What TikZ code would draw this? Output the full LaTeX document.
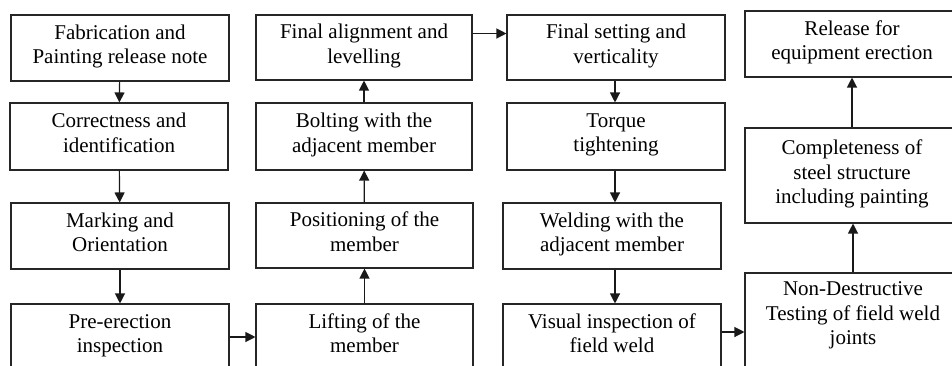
\documentclass[tikz,border=0pt]{standalone}
\usepackage{fontspec}
\setmainfont{Liberation Serif}
\usetikzlibrary{arrows.meta,calc}
\newcommand{\topstrut}{\rule{0pt}{20pt}}
\newcommand{\botstrut}{\rule[-7.35pt]{0pt}{7.35pt}}
\begin{document}
\begin{tikzpicture}[x=1pt,y=-1pt,
  box/.style={draw=black!85,line width=1.1pt,fill=white,minimum height=66pt,inner sep=0pt,align=center,
    font=\fontsize{21}{24.5}\selectfont,execute at begin node=\topstrut,execute at end node=\botstrut},
  txt/.style={inner sep=0pt,align=center,font=\fontsize{21}{24.5}\selectfont,
    execute at begin node=\topstrut,execute at end node=\botstrut},
  arr/.style={draw=black!90,line width=1.2pt,-{Triangle[length=10pt,width=10pt]}}]
\fill[white] (0,0) rectangle (952,365);
\useasboundingbox (0,0) rectangle (952,365);
\clip (0,0) rectangle (952,365);
% column 1
\node[box,minimum width=218pt] (a1) at (120,48) {Fabrication and\\Painting release note};
\node[box,minimum width=218pt,minimum height=67pt] (a2) at (119,136.5) {Correctness and\\identification};
\node[box,minimum width=218pt] (a3) at (120,236) {Marking and\\Orientation};
\node[box,minimum width=218pt] (a4) at (120,337) {Pre-erection\\inspection};
% column 2
\node[box,minimum width=216pt,minimum height=65pt] (b1) at (364,47.5) {Final alignment and\\levelling};
\node[box,minimum width=216pt,minimum height=67pt] (b2) at (364,136.5) {Bolting with the\\adjacent member};
\node[box,minimum width=217pt,minimum height=65pt] (b3) at (364.5,235.5) {Positioning of the\\member};
\node[box,minimum width=217pt] (b4) at (364.5,337) {Lifting of the\\member};
% column 3
\node[box,minimum width=218pt,minimum height=65pt] (c1) at (616,47.5) {Final setting and\\verticality};
\node[box,minimum width=218pt,minimum height=67pt] (c2) at (616,136.5) {Torque\\tightening};
\node[box,minimum width=218pt] (c3) at (612,236) {Welding with the\\adjacent member};
\node[box,minimum width=218pt] (c4) at (612,337) {Visual inspection of\\field weld};
% column 4
\node[box,minimum width=214pt] (d1) at (852,44) {Release for\\equipment erection};
\node[box,minimum width=214pt,minimum height=95pt] (d2) at (852,175.5) {Completeness of\\steel structure\\including painting};
\node[box,minimum width=214pt,minimum height=100pt] (d3) at (852,323) {};
\node[txt] (d3t) at (853,317) {Non-Destructive\\Testing of field weld\\joints};
% connectors
\draw[arr] (a1) -- (a2);
\draw[arr] (a2) -- (a3);
\draw[arr] (a3) -- (a4);
\draw[arr] (a4) -- (b4);
\draw[arr] (b4) -- (b3);
\draw[arr] (b3) -- (b2);
\draw[arr] (b2) -- (b1);
\draw[arr] ([yshift=14pt]b1.east) -- ([yshift=14pt]c1.west);
\draw[arr] ([xshift=-1pt]c1.south) -- ([xshift=-1pt]c2.north);
\draw[arr] ([xshift=-1pt]c2.south) -- (c2.south -| 615,0) -- (c3.north -| 615,0);
\draw[arr] (c3.south -| 615,0) -- (c4.north -| 615,0);
\draw[arr] ([yshift=5pt]c4.east) -- ([yshift=5pt]c4.east -| d3.west);
\draw[arr] ([xshift=1pt]d3.north) -- ([xshift=1pt]d2.south);
\draw[arr] (d2) -- (d1);
\end{tikzpicture}
\end{document}
